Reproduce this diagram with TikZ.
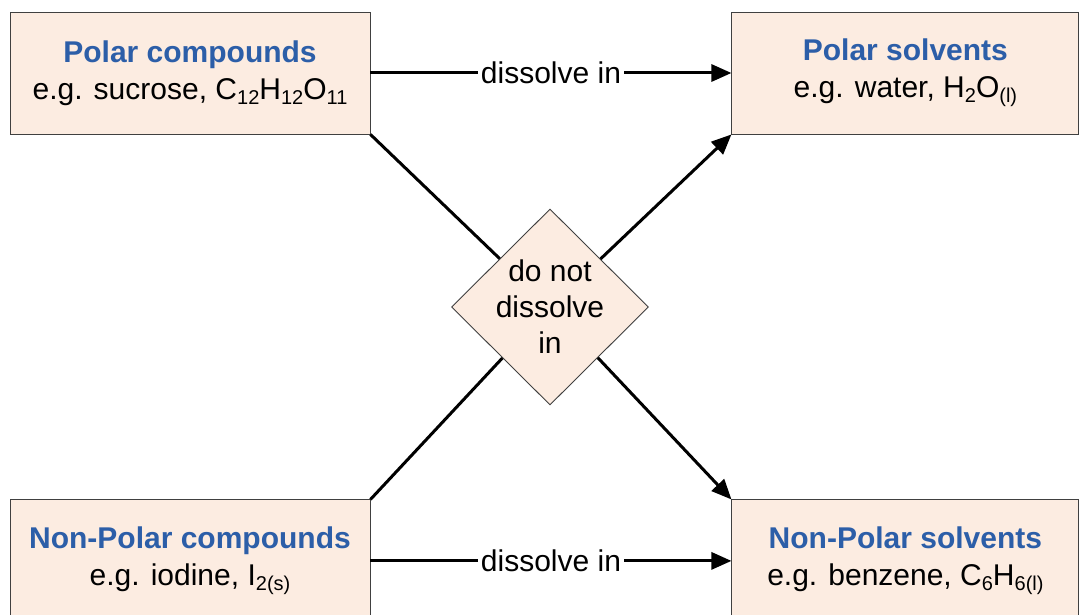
\documentclass[tikz,border=0pt]{standalone}
\usepackage{fontspec}
\setmainfont{Liberation Sans}
\usetikzlibrary{positioning,shapes,arrows.meta,calc}

\definecolor{boxfill}{RGB}{252,236,225}
\definecolor{titleblue}{RGB}{44,94,168}
\newcommand{\chemsub}[1]{\raisebox{-5pt}{\fontsize{20}{20}\selectfont #1}}

\begin{document}
\begin{tikzpicture}[x=1pt,y=-1pt]
\tikzset{
    compound/.style={rectangle, draw=black!75, line width=0.9pt, fill=boxfill, minimum width=360pt, minimum height=122pt, align=center, font=\fontsize{30}{37}\selectfont},
    solvent/.style={compound, minimum width=347pt},
    notin/.style={diamond, draw=black!75, line width=0.9pt, fill=boxfill, minimum width=197pt, minimum height=196pt, inner sep=0pt, aspect=1},
    conn/.style={line width=3pt, -{Triangle[length=20pt,width=17pt]}},
    plain/.style={line width=3pt},
    midlbl/.style={fill=white, inner sep=3pt, font=\fontsize{30}{37}\selectfont}
}
\useasboundingbox (0,0) rectangle (1079,615);
\clip (0,0) rectangle (1079,615);

\node[compound] (polarcomp) at (190,73) {\textcolor{titleblue}{\textbf{Polar compounds}}\\e.g. sucrose, C\chemsub{12}H\chemsub{12}O\chemsub{11}};
\node[solvent, right=361pt of polarcomp] (polarsolv) {\textcolor{titleblue}{\textbf{Polar solvents}}\\e.g. water, H\chemsub{2}O\chemsub{(l)}};
\node[compound, below=365pt of polarcomp] (nonpolarcomp) {\textcolor{titleblue}{\textbf{Non-Polar compounds}}\\e.g. iodine, I\chemsub{2(s)}};
\node[solvent, below=365pt of polarsolv] (nonpolarsolv) {\textcolor{titleblue}{\textbf{Non-Polar solvents}}\\e.g. benzene, C\chemsub{6}H\chemsub{6(l)}};

\node[notin, label={[align=center, font=\fontsize{30}{36}\selectfont]center:do not\\dissolve\\in}] (donot) at (550,307) {};

\draw[conn] (polarcomp) -- node[midlbl] {dissolve in} (polarsolv);
\draw[conn] (nonpolarcomp) -- node[midlbl] {dissolve in} (nonpolarsolv);

\draw[plain] (polarcomp.south east) -- (donot);
\draw[conn] (donot) -- (polarsolv.south west);
\draw[plain] (nonpolarcomp.north east) -- (donot);
\draw[conn] (donot) -- (nonpolarsolv.north west);
\end{tikzpicture}
\end{document}
